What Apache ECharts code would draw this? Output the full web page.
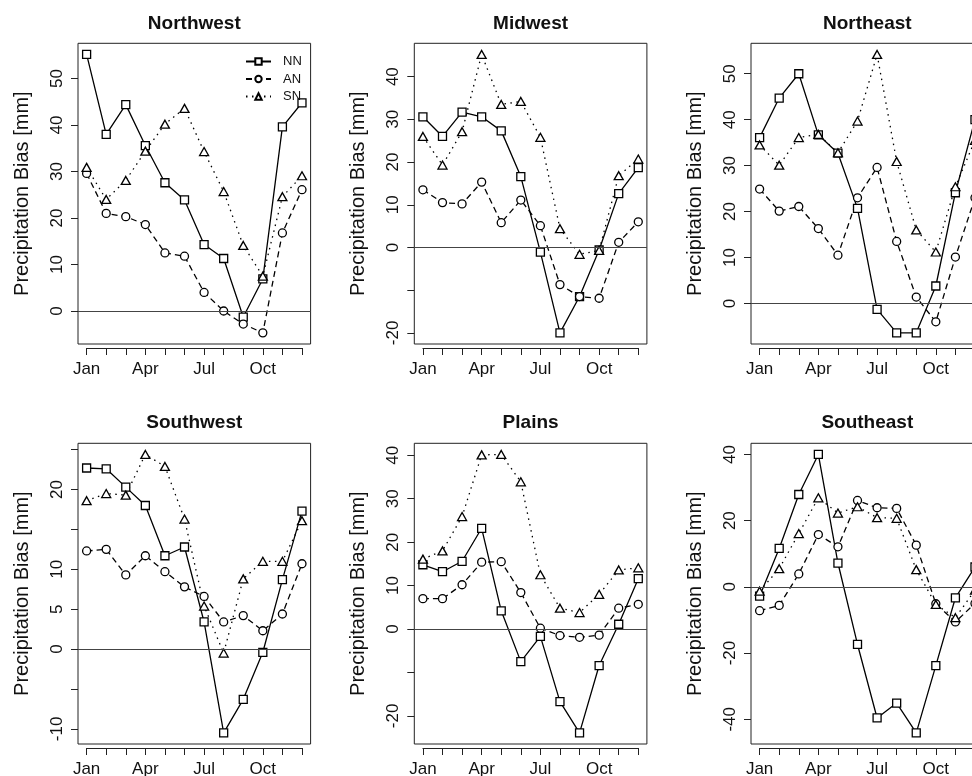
<!DOCTYPE html>
<html>
<head>
<meta charset="utf-8">
<script src="https://cdn.jsdelivr.net/npm/echarts@6/dist/echarts.min.js"></script>
<style>
  html, body { margin: 0; padding: 0; background: #fff; }
  #chart { width: 972px; height: 776px; }
</style>
</head>
<body>
<div id="chart"></div>
<script>
  const months = ['Jan', 'Feb', 'Mar', 'Apr', 'May', 'Jun', 'Jul', 'Aug', 'Sep', 'Oct', 'Nov', 'Dec'];
  const monthLabels = [1, 4, 7, 10];

  // Northwest
  const nwNN = [55.2, 38.0, 44.4, 35.6, 27.6, 23.9, 14.3, 11.3, -1.3, 6.9, 39.6, 44.8];
  const nwAN = [29.6, 21.0, 20.3, 18.6, 12.5, 11.8, 4.0, 0.0, -2.8, -4.7, 16.8, 26.1];
  const nwSN = [30.9, 24.0, 28.1, 34.4, 40.2, 43.6, 34.3, 25.7, 14.1, 7.5, 24.6, 29.1];
  const nwTicks = [0, 10, 20, 30, 40, 50];
  const nwLabels = [0, 10, 20, 30, 40, 50];

  // Midwest
  const mwNN = [30.6, 26.0, 31.7, 30.6, 27.3, 16.6, -1.1, -20.0, -11.5, -0.6, 12.6, 18.7];
  const mwAN = [13.5, 10.5, 10.2, 15.3, 5.8, 11.1, 5.1, -8.7, -11.5, -11.9, 1.2, 6.0];
  const mwSN = [26.0, 19.3, 27.1, 45.2, 33.5, 34.2, 25.8, 4.4, -1.6, -0.7, 16.8, 20.7];
  const mwTicks = [-20, -10, 0, 10, 20, 30, 40];
  const mwLabels = [-20, 0, 10, 20, 30, 40];

  // Northeast
  const neNN = [36.1, 44.7, 50.0, 36.7, 32.7, 20.7, -1.3, -6.4, -6.4, 3.8, 24.1, 40.0];
  const neAN = [24.9, 20.1, 21.1, 16.3, 10.5, 23.0, 29.6, 13.5, 1.4, -4.0, 10.1, 23.0];
  const neSN = [34.5, 30.1, 36.1, 36.8, 32.8, 39.7, 54.2, 30.9, 16.0, 11.2, 25.4, 35.5];
  const neTicks = [0, 10, 20, 30, 40, 50];
  const neLabels = [0, 10, 20, 30, 40, 50];

  // Southwest
  const swNN = [22.7, 22.6, 20.3, 18.0, 11.7, 12.8, 3.4, -10.5, -6.3, -0.4, 8.7, 17.3];
  const swAN = [12.3, 12.5, 9.3, 11.7, 9.7, 7.8, 6.6, 3.4, 4.2, 2.3, 4.4, 10.7];
  const swSN = [18.6, 19.5, 19.3, 24.4, 22.9, 16.3, 5.4, -0.5, 8.8, 11.0, 11.0, 16.1];
  const swTicks = [-10, -5, 0, 5, 10, 15, 20, 25];
  const swLabels = [-10, 0, 5, 10, 20];

  // Plains
  const plNN = [14.8, 13.2, 15.6, 23.2, 4.2, -7.5, -1.7, -16.7, -23.9, -8.4, 1.1, 11.6];
  const plAN = [7.0, 7.0, 10.2, 15.4, 15.5, 8.4, 0.2, -1.5, -1.9, -1.4, 4.8, 5.7];
  const plSN = [16.1, 18.0, 25.9, 40.1, 40.2, 33.9, 12.5, 4.8, 3.8, 8.0, 13.6, 14.1];
  const plTicks = [-20, -10, 0, 10, 20, 30, 40];
  const plLabels = [-20, 0, 10, 20, 30, 40];

  // Southeast
  const seNN = [-2.8, 11.6, 27.9, 40.0, 7.2, -17.4, -39.6, -35.1, -44.1, -23.8, -3.3, 6.0];
  const seAN = [-7.2, -5.6, 3.9, 15.8, 12.1, 26.1, 23.9, 23.7, 12.6, -5.1, -10.6, -5.0];
  const seSN = [-1.3, 5.5, 16.1, 26.9, 22.3, 24.2, 20.9, 20.7, 5.2, -5.3, -9.3, -1.0];
  const seTicks = [-40, -20, 0, 20, 40];
  const seLabels = [-40, -20, 0, 20, 40];

  const panels = [
    { title: 'Northwest', nn: nwNN, an: nwAN, sn: nwSN, ticks: nwTicks, labels: nwLabels },
    { title: 'Midwest', nn: mwNN, an: mwAN, sn: mwSN, ticks: mwTicks, labels: mwLabels },
    { title: 'Northeast', nn: neNN, an: neAN, sn: neSN, ticks: neTicks, labels: neLabels },
    { title: 'Southwest', nn: swNN, an: swAN, sn: swSN, ticks: swTicks, labels: swLabels },
    { title: 'Plains', nn: plNN, an: plAN, sn: plSN, ticks: plTicks, labels: plLabels },
    { title: 'Southeast', nn: seNN, an: seAN, sn: seSN, ticks: seTicks, labels: seLabels }
  ];

  const font = '"Liberation Sans", Arial, Helvetica, sans-serif';
  const ink = '#111';

  // layout of the plot boxes (R style mfrow = c(2, 3))
  const colLeft = [78, 414.3, 751];
  const rowTop = [43.3, 443.3];
  const titleTop = [14, 413];
  const boxW = 232.6, boxH = 300.7;
  const xPad = 0.44;      // R adds 4% to each side of the range
  const axisGap = 4;      // x axis drawn a little below the box

  const styles = {
    NN: { symbol: 'rect', size: 8, type: 'solid' },
    AN: { symbol: 'circle', size: 8, type: [6, 4] },
    SN: { symbol: 'triangle', size: [9, 8], type: [1.5, 4.5] }
  };

  const grids = [], xAxes = [], yAxes = [], series = [], titles = [];

  panels.forEach((p, i) => {
    const left = colLeft[i % 3];
    const top = rowTop[Math.floor(i / 3)];
    const all = p.nn.concat(p.an, p.sn);
    const lo = Math.min(...all), hi = Math.max(...all);
    const pad = (hi - lo) * 0.04;
    const ppm = boxW / (11 + 2 * xPad);
    const g = grids.length;

    grids.push({
      left: left, top: top, width: boxW, height: boxH,
      show: true, borderColor: '#222', borderWidth: 1,
      outerBoundsMode: 'none'
    });
    grids.push({
      left: left + xPad * ppm, top: top + boxH + axisGap - 1,
      width: 11 * ppm, height: 1, outerBoundsMode: 'none'
    });

    xAxes.push({ gridIndex: g, type: 'value', min: 1 - xPad, max: 12 + xPad, show: false });
    xAxes.push({
      gridIndex: g + 1, type: 'value', min: 1, max: 12, interval: 1,
      axisLine: { show: true, lineStyle: { color: '#222', width: 1 } },
      axisTick: { show: true, length: 7, lineStyle: { color: '#222', width: 1 } },
      axisLabel: {
        customValues: monthLabels, formatter: v => months[v - 1],
        margin: 13, fontSize: 17, fontFamily: font, color: ink, hideOverlap: false
      },
      splitLine: { show: false }
    });

    yAxes.push({
      gridIndex: g, type: 'value', min: lo - pad, max: hi + pad,
      axisLine: { show: false },
      axisTick: { show: true, length: 7, customValues: p.ticks, lineStyle: { color: '#222', width: 1 } },
      axisLabel: {
        customValues: p.labels, rotate: 90, margin: 12,
        fontSize: 17, fontFamily: font, color: ink, hideOverlap: false
      },
      splitLine: { show: false },
      name: 'Precipitation Bias [mm]', nameLocation: 'middle', nameGap: 46,
      nameTextStyle: { fontSize: 20, fontFamily: font, color: ink }
    });
    yAxes.push({ gridIndex: g + 1, type: 'value', show: false });

    titles.push({
      text: p.title, left: left + boxW / 2, top: titleTop[Math.floor(i / 3)],
      textAlign: 'center', padding: 0,
      textStyle: { fontSize: 19, fontWeight: 'bold', fontFamily: font, color: ink }
    });

    [['NN', p.nn], ['AN', p.an], ['SN', p.sn]].forEach(([name, vals], k) => {
      const st = styles[name];
      const s = {
        type: 'line', name: name, xAxisIndex: g, yAxisIndex: g,
        data: vals.map((v, m) => [m + 1, v]),
        symbol: st.symbol, symbolSize: st.size, showSymbol: true,
        itemStyle: { color: '#fff', borderColor: '#000', borderWidth: 1.3 },
        lineStyle: { color: '#000', width: 1.3, type: st.type },
        emphasis: { disabled: true },
        animation: false, z: 3
      };
      if (k === 0) {
        s.markLine = {
          silent: true, symbol: ['none', 'none'], label: { show: false },
          lineStyle: { color: '#444', type: 'solid', width: 1.1 },
          data: [{ yAxis: 0 }], animation: false
        };
      }
      series.push(s);
    });
  });

  const chart = echarts.init(document.getElementById('chart'));
  chart.setOption({
    backgroundColor: '#fff',
    animation: false,
    title: titles,
    legend: {
      data: ['NN', 'AN', 'SN'], orient: 'vertical', left: 245, top: 55,
      itemWidth: 25, itemHeight: 8, itemGap: 4.5, padding: 0, selectedMode: false,
      textStyle: { fontSize: 13, fontFamily: font, color: ink, padding: [0, 0, 0, 7], lineHeight: 13 }
    },
    grid: grids,
    xAxis: xAxes,
    yAxis: yAxes,
    series: series
  });
</script>
</body>
</html>
